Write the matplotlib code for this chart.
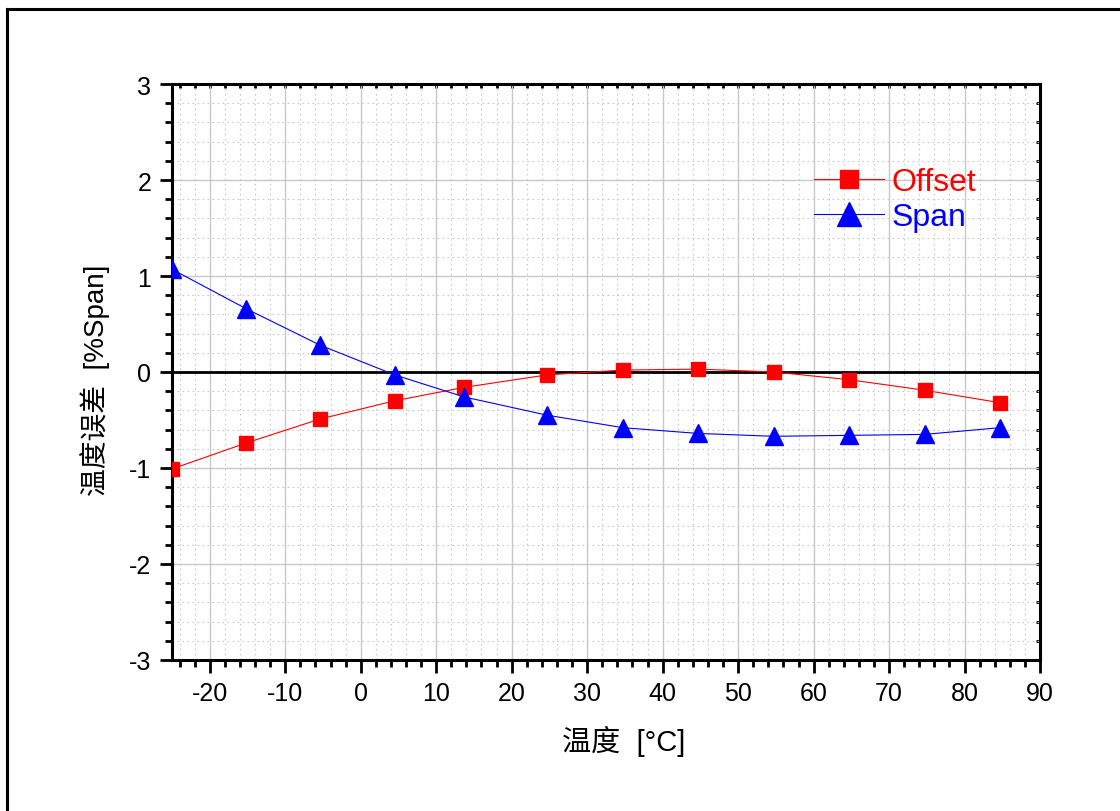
import numpy as np
import matplotlib.pyplot as plt
from matplotlib.ticker import MultipleLocator
from matplotlib.lines import Line2D

plt.rcParams['font.family'] = ['Liberation Sans', 'Noto Sans CJK SC', 'DejaVu Sans']
plt.rcParams['axes.unicode_minus'] = False

temp = [-25, -15.2, -5.4, 4.5, 13.7, 24.7, 34.7, 44.7, 54.7, 64.7, 74.7, 84.7]
offset = [-1.01, -0.74, -0.49, -0.30, -0.16, -0.03, 0.02, 0.03, 0.00, -0.08, -0.19, -0.32]
span = [1.07, 0.66, 0.28, -0.03, -0.26, -0.45, -0.58, -0.64, -0.67, -0.66, -0.65, -0.58]


def main():
    fig = plt.figure(figsize=(11.2, 8.12), dpi=100)
    ax = fig.add_axes([0.1536, 0.186, 0.775, 0.7093])

    # frame round the figure (left and top edges visible)
    fig.add_artist(Line2D([0.0063, 0.0063], [0, 0.9877], color='black', lw=2.2,
                          transform=fig.transFigure))
    fig.add_artist(Line2D([0.0063, 1], [0.9877, 0.9877], color='black', lw=2.2,
                          transform=fig.transFigure))

    ax.plot(temp, offset, color='red', lw=0.8, marker='s', ms=10,
            mec='red', mfc='red', label='Offset', zorder=4)
    ax.plot(temp, span, color='blue', lw=0.8, marker='^', ms=13,
            mec='blue', mfc='blue', label='Span', zorder=4)
    ax.axhline(0, color='black', lw=2, zorder=3)

    ax.set_xlim(-25, 90)
    ax.set_ylim(-3, 3)
    ax.xaxis.set_major_locator(MultipleLocator(10))
    ax.xaxis.set_minor_locator(MultipleLocator(2))
    ax.yaxis.set_major_locator(MultipleLocator(1))
    ax.yaxis.set_minor_locator(MultipleLocator(0.2))
    ax.set_xticks(np.arange(-20, 91, 10))

    ax.grid(which='major', color='#c8c8c8', lw=1.0, ls='-', zorder=0)
    ax.grid(which='minor', color='#c8c8c8', lw=0.8, ls=(0, (1.5, 3)), zorder=0)
    ax.set_axisbelow(True)

    for s in ax.spines.values():
        s.set_linewidth(2.2)
    ax.tick_params(which='major', direction='out', length=9, width=2,
                   labelsize=18, pad=6)
    ax.tick_params(which='minor', direction='out', length=5, width=2)

    top = ax.secondary_xaxis('top')
    top.xaxis.set_major_locator(MultipleLocator(10))
    top.xaxis.set_minor_locator(MultipleLocator(2))
    top.tick_params(which='both', direction='in', length=3, width=2, labeltop=False)
    right = ax.secondary_yaxis('right')
    right.yaxis.set_major_locator(MultipleLocator(1))
    right.yaxis.set_minor_locator(MultipleLocator(0.2))
    right.tick_params(which='both', direction='in', length=3, width=2, labelright=False)

    ax.set_xlabel('温度  [°C]', fontsize=21)
    ax.set_ylabel('温度误差  [%Span]', fontsize=20)
    ax.xaxis.set_label_coords(0.52, -0.113)
    ax.yaxis.set_label_coords(-0.072, 0.488)

    ax.legend(loc='upper left', bbox_to_anchor=(0.706, 0.905), frameon=False,
              fontsize=23, handlelength=2.2, handletextpad=0.25, labelspacing=0.15,
              borderpad=0.4, markerscale=1.3, labelcolor='linecolor')

    fig.savefig('out.png', dpi=100)


if __name__ == "__main__":
    main()
